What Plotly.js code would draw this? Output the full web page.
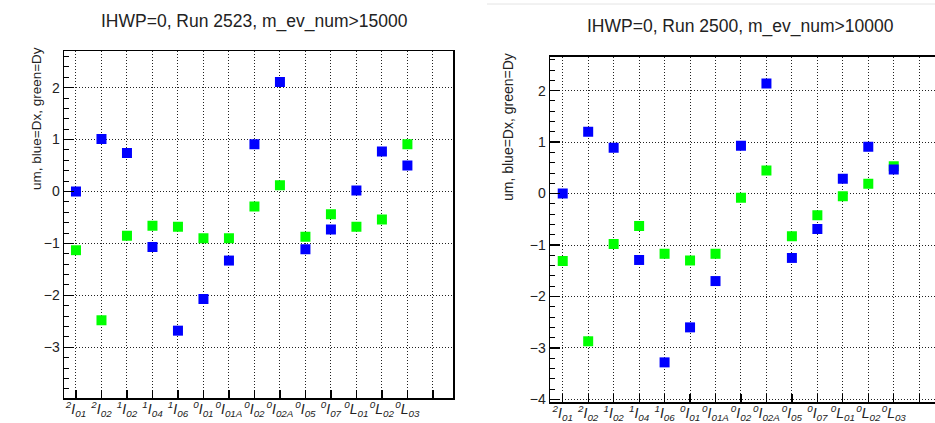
<!DOCTYPE html>
<html>
<head>
<meta charset="utf-8">
<script src="https://cdn.plot.ly/plotly-3.0.1.min.js"></script>
<style>
html,body{margin:0;padding:0;background:#fff;}
#chart{width:935px;height:423px;}
</style>
</head>
<body>
<div id="chart"></div>
<script>
// ---- data ----
const labels = ['2I01','2I02','1I02','1I04','1I06','0I01','0I01A','0I02','0I02A','0I05','0I07','0L01','0L02','0L03'];
const leftTitle = 'IHWP=0, Run 2523, m_ev_num>15000';
const rightTitle = 'IHWP=0, Run 2500, m_ev_num>10000';
const yTitle = 'um, blue=Dx, green=Dy';
const leftDx = [0.00, 1.01, 0.74, -1.07, -2.68, -2.07, -1.33, 0.91, 2.11, -1.11, -0.73, 0.02, 0.77, 0.50];
const leftDy = [-1.13, -2.48, -0.85, -0.66, -0.68, -0.90, -0.90, -0.29, 0.12, -0.87, -0.44, -0.68, -0.54, 0.91];
const rightDx = [0.00, 1.20, 0.89, -1.29, -3.28, -2.60, -1.70, 0.93, 2.14, -1.25, -0.69, 0.29, 0.91, 0.47];
const rightDy = [-1.31, -2.87, -0.98, -0.63, -1.17, -1.30, -1.17, -0.08, 0.45, -0.83, -0.42, -0.05, 0.19, 0.53];

// ---- build ----
const W = 935, H = 423;
const xs = labels.map((_, i) => i);
const tickvals = labels.map((_, i) => i).concat([labels.length]);
const ticktext = labels.map(l => '<i><sup>' + l[0] + '</sup>' + l[1] + '<sub>' + l.slice(2) + '</sub></i>').concat(['']);

const font = {family: 'Liberation Sans, Arial, sans-serif', color: '#222'};
function px2x(p){ return p / W; }
function px2y(p){ return 1 - p / H; }

function mk(y, color, xa, ya){
  return {x: xs, y: y, type: 'scatter', mode: 'markers', xaxis: xa, yaxis: ya,
    marker: {symbol: 'square', size: 10, color: color, line: {width: 0}}, showlegend: false, hoverinfo: 'skip'};
}
const traces = [
  mk(leftDy, '#00ff00', 'x', 'y'),
  mk(leftDx, '#0000ff', 'x', 'y'),
  mk(rightDy, '#00ff00', 'x2', 'y2'),
  mk(rightDx, '#0000ff', 'x2', 'y2')
];

function xaxis(domain, range, anchor){
  return {domain: domain, range: range, anchor: anchor, tickmode: 'array', tickvals: tickvals, ticktext: ticktext,
    ticks: 'inside', ticklen: 8, tickcolor: '#000', tickwidth: 1.2, tickangle: 0, ticklabelstandoff: -2,
    showgrid: true, gridcolor: '#222', griddash: '1px,2px', gridwidth: 1, zeroline: false,
    showline: true, linecolor: '#000', linewidth: 1.5, mirror: true,
    tickfont: {family: font.family, size: 14, color: '#222'}};
}
function yaxis(domain, range, anchor, mirror){
  return {domain: domain, range: range, anchor: anchor, tick0: 0, dtick: 1,
    ticks: 'inside', ticklen: 10, tickcolor: '#000', tickwidth: 1.4,
    minor: {dtick: 0.2, tick0: 0, ticks: 'inside', ticklen: 5, tickcolor: '#000', tickwidth: 1, showgrid: false},
    showgrid: true, gridcolor: '#222', griddash: '1px,2px', gridwidth: 1, zeroline: false,
    showline: true, linecolor: '#000', linewidth: 1.5, mirror: mirror,
    tickfont: {family: font.family, size: 14, color: '#222'}};
}

const layout = {
  width: W, height: H, margin: {l: 0, r: 0, t: 0, b: 0},
  paper_bgcolor: '#fff', plot_bgcolor: '#fff', font: font, showlegend: false,
  xaxis: xaxis([px2x(64), px2x(453.3)], [-0.47, 14.80], 'y'),
  yaxis: yaxis([px2y(398), px2y(51)], [-3.977, 2.706], 'x', true),
  xaxis2: xaxis([px2x(550), 1], [-0.50, 14.62], 'y2'),
  yaxis2: yaxis([px2y(402), px2y(56.7)], [-4.05, 2.66], 'x2', false),
  annotations: [
    {text: leftTitle, xref: 'paper', yref: 'paper', x: px2x(255), y: px2y(22), xanchor: 'center', yanchor: 'middle', showarrow: false, font: {family: font.family, size: 17.5, color: '#222'}},
    {text: rightTitle, xref: 'paper', yref: 'paper', x: px2x(740), y: px2y(27), xanchor: 'center', yanchor: 'middle', showarrow: false, font: {family: font.family, size: 17.5, color: '#222'}},
    {text: yTitle, xref: 'paper', yref: 'paper', x: px2x(36), y: px2y(119), xanchor: 'center', yanchor: 'middle', textangle: -90, showarrow: false, font: {family: font.family, size: 13.5, color: '#222'}},
    {text: yTitle, xref: 'paper', yref: 'paper', x: px2x(508), y: px2y(127), xanchor: 'center', yanchor: 'middle', textangle: -90, showarrow: false, font: {family: font.family, size: 14, color: '#222'}}
  ],
  shapes: [
    {type: 'line', xref: 'paper', yref: 'paper', x0: px2x(487), x1: 1, y0: px2y(4), y1: px2y(4), line: {color: '#e4e4e4', width: 1}}
  ]
};

Plotly.newPlot('chart', traces, layout, {staticPlot: true, displayModeBar: false});
</script>
</body>
</html>
